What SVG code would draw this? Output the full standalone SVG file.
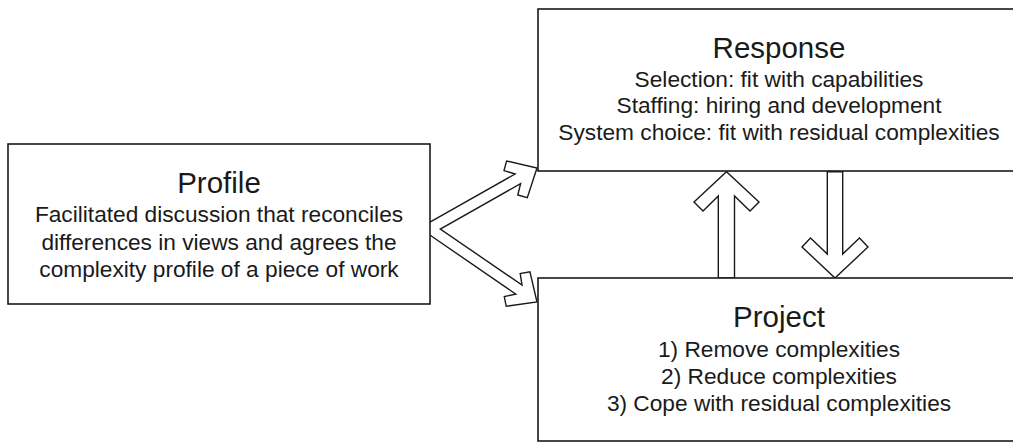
<svg xmlns="http://www.w3.org/2000/svg" width="1013" height="443" viewBox="0 0 1013 443">
<style>
.box{fill:#fff;stroke:#1a1a1a;stroke-width:1.6}
.arr{fill:#fff;stroke:#1a1a1a;stroke-width:1.4;stroke-linejoin:miter}
text{font-family:"Liberation Sans",Arial,sans-serif;fill:#1a1a1a;text-anchor:middle}
.t{font-size:29.5px}
.b{font-size:22.7px}
</style>
<rect width="1013" height="443" fill="#fff"/>
<g id="connectors">
<polygon class="arr" points="427.3,223.7 515.1,174.0 504.0,170.6 506.6,161.0 537,168 527.3,197.6 517.8,195.0 520.6,183.6 440.3,229.1 522.0,285.0 520.2,273.5 529.9,271.7 537,302 506.2,306.3 504.3,296.6 515.8,294.1 426.9,233.0"/>
<polygon class="arr" points="718.3,278 718.3,196 703,211 694,202 726.5,171.7 759,202 750,211 734.5,196 734.5,278"/>
<polygon class="arr" points="827.3,171.7 827.3,254 810.5,238 802,247 835,278 868,247 859.5,238 842.7,254 842.7,171.7"/>
</g>
<g id="profile">
<rect class="box" x="8" y="144" width="422" height="160"/>
<text class="t" x="219" y="193">Profile</text>
<text class="b" x="219" y="222">Facilitated discussion that reconciles</text>
<text class="b" x="219" y="250">differences in views and agrees the</text>
<text class="b" x="219" y="277">complexity profile of a piece of work</text>
</g>
<g id="response">
<rect class="box" x="538" y="9" width="482" height="162"/>
<text class="t" x="779" y="58">Response</text>
<text class="b" x="779" y="87">Selection: fit with capabilities</text>
<text class="b" x="779" y="113">Staffing: hiring and development</text>
<text class="b" x="779" y="140">System choice: fit with residual complexities</text>
</g>
<g id="project">
<rect class="box" x="538" y="278" width="482" height="163"/>
<text class="t" x="779" y="327">Project</text>
<text class="b" x="779" y="357">1) Remove complexities</text>
<text class="b" x="779" y="384">2) Reduce complexities</text>
<text class="b" x="779" y="411">3) Cope with residual complexities</text>
</g>
</svg>
